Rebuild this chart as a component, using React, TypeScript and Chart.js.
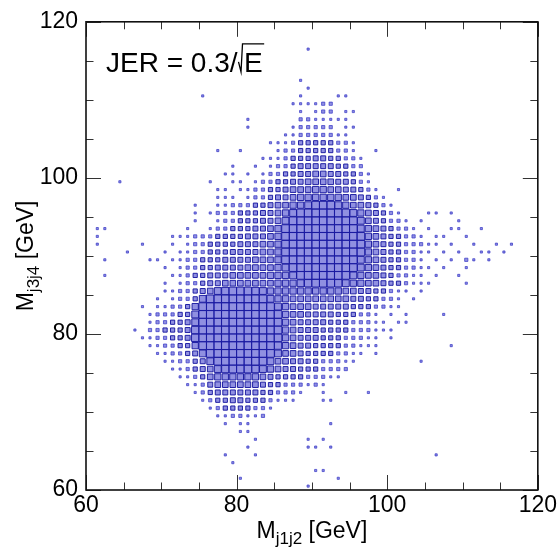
import React, { useEffect, useRef } from "react";
import { Chart, registerables } from "chart.js";

Chart.register(...registerables);

// Axis ranges and labelled ticks (GeV)
const xMin = 60;
const xMax = 120;
const yMin = 60;
const yMax = 120;
const xTicks = [60, 80, 100, 120];
const yTicks = [60, 80, 100, 120];
const minorStep = 5;
const binWidth = 1;

// 2D histogram:
// [M_j3j4 bin low edge, first M_j1j2 bin low edge, box level 0-9 for consecutive 1 GeV bins]
const densityRows: [number, number, string][] = [
  [116, 89, "1"],
  [112, 88, "1"],
  [111, 89, "1"],
  [110, 75, "1"], [110, 88, "1"], [110, 93, "11"],
  [109, 87, "111122"],
  [108, 88, "10122011"],
  [107, 81, "1"], [107, 88, "2211111"],
  [106, 81, "1"], [106, 87, "122222011"],
  [105, 86, "112222211"],
  [104, 84, "111233333221"],
  [103, 77, "1"], [103, 80, "1"], [103, 85, "12233333221"], [103, 98, "1"],
  [102, 83, "11123334433221"],
  [101, 79, "1"], [101, 82, "101223444443322"],
  [100, 78, "11010122334455443321"],
  [99, 64, "1"], [99, 76, "1001101223344555544321"],
  [98, 77, "1101122334555665544321"], [98, 101, "1"],
  [97, 77, "11101223445666666554321"],
  [96, 74, "1"], [96, 77, "112223345566799976554321"],
  [95, 74, "1012223334456799999997654321"], [95, 105, "1101"],
  [94, 74, "10012233344579999999997543221"], [94, 104, "1"], [94, 109, "1"],
  [93, 61, "11"], [93, 73, "1001223334456999999999976543221"], [93, 105, "10011001"],
  [92, 61, "1"], [92, 71, "1112223333444569999999999965433221"], [92, 106, "11001"],
  [91, 61, "1"], [91, 67, "1"], [91, 71, "101223333444556999999999996543322211"], [91, 108, "100100101"],
  [90, 65, "1"], [90, 70, "101122333444455699999999999654332211"], [90, 107, "101001101"],
  [89, 62, "1"], [89, 68, "1101122333444455569999999999765433221"], [89, 106, "10102101"],
  [88, 70, "101223344445555679999999997654332211"], [88, 107, "1001"],
  [87, 62, "1"], [87, 71, "1123344455555666799999997655432211"], [87, 106, "1001"],
  [86, 70, "10122344555555566678999876655433211"], [86, 105, "1"], [86, 110, "1"],
  [85, 70, "112234578999876666666666554433211"], [85, 104, "1"],
  [84, 69, "101223799999999766555555554433221"], [84, 103, "1"],
  [83, 67, "10112236999999999976555444443332211"],
  [82, 68, "12223379999999999965544443332210101"], [82, 107, "1"],
  [81, 68, "12233479999999999965444433322211011"],
  [80, 66, "10223334899999999999654443333222111"],
  [79, 67, "1122334899999999999654443332221101"],
  [78, 68, "1122336999999999986544333322111"], [78, 108, "1"],
  [77, 69, "112234799999999975543333221101"],
  [76, 70, "11223479999999755443322211"], [76, 104, "1"],
  [75, 71, "112345789998765443332222"],
  [74, 72, "1123566666654333322211"],
  [73, 73, "1124555555433222121"],
  [72, 74, "123444444332221001001001"],
  [71, 75, "123344333211100011"],
  [70, 76, "123333221"],
  [69, 77, "1122112"],
  [68, 78, "1011"], [68, 92, "1"],
  [67, 80, "11"],
  [66, 82, "1"], [66, 89, "101"],
  [65, 81, "1"], [65, 89, "1101"],
  [64, 78, "1"], [64, 82, "1"], [64, 106, "1"],
  [63, 79, "1"],
  [62, 90, "11"],
  [61, 80, "1"], [61, 93, "1"],
  [60, 89, "1"],
];

const FONT = '"Liberation Sans", Arial, Helvetica, sans-serif';
const boxScale = [0, 0.28, 0.42, 0.55, 0.65, 0.74, 0.82, 0.89, 0.95, 1.0];

type Cell = { x: number; y: number; v: number };

function buildPoints(): Cell[] {
  const pts: Cell[] = [];
  for (const [yLow, xLow, levels] of densityRows) {
    for (let i = 0; i < levels.length; i++) {
      const v = Number(levels[i]);
      if (v > 0) {
        pts.push({ x: xLow + i * binWidth + binWidth / 2, y: yLow + binWidth / 2, v });
      }
    }
  }
  return pts;
}

type Part = { t: string; size: number; dy: number };

function drawParts(ctx: CanvasRenderingContext2D, parts: Part[], x: number, y: number) {
  const widths = parts.map((p) => {
    ctx.font = `${p.size}px ${FONT}`;
    return ctx.measureText(p.t).width;
  });
  const total = widths.reduce((a, b) => a + b, 0);
  let cx = x - total / 2;
  parts.forEach((p, i) => {
    ctx.font = `${p.size}px ${FONT}`;
    ctx.fillText(p.t, cx, y + p.dy);
    cx += widths[i];
  });
}

const rootFramePlugin = {
  id: "rootFrame",
  afterDatasetsDraw(chart: any) {
    const { ctx, chartArea: a, scales } = chart;
    const xs = scales.x;
    const ys = scales.y;
    ctx.save();
    ctx.strokeStyle = "#333";
    ctx.lineWidth = 1;
    ctx.beginPath();
    for (let v = xMin; v <= xMax; v += minorStep) {
      const len = v % 20 === 0 ? 15 : 7.5;
      const px = Math.round(xs.getPixelForValue(v)) + 0.5;
      ctx.moveTo(px, a.bottom);
      ctx.lineTo(px, a.bottom - len);
      ctx.moveTo(px, a.top);
      ctx.lineTo(px, a.top + len);
    }
    for (let v = yMin; v <= yMax; v += minorStep) {
      const len = v % 20 === 0 ? 15 : 7.5;
      const py = Math.round(ys.getPixelForValue(v)) + 0.5;
      ctx.moveTo(a.left, py);
      ctx.lineTo(a.left + len, py);
      ctx.moveTo(a.right, py);
      ctx.lineTo(a.right - len, py);
    }
    ctx.stroke();
    ctx.strokeStyle = "#111";
    ctx.lineWidth = 1.6;
    ctx.strokeRect(a.left, a.top, a.right - a.left, a.bottom - a.top);
    ctx.restore();
  },
  afterDraw(chart: any) {
    const { ctx, chartArea: a } = chart;
    ctx.save();
    ctx.fillStyle = "#000";
    ctx.textBaseline = "alphabetic";
    ctx.textAlign = "left";

    drawParts(
      ctx,
      [
        { t: "M", size: 23, dy: 0 },
        { t: "j1j2", size: 17, dy: 6 },
        { t: " [GeV]", size: 23, dy: 0 },
      ],
      (a.left + a.right) / 2,
      538
    );

    ctx.save();
    ctx.translate(33, (a.top + a.bottom) / 2);
    ctx.rotate(-Math.PI / 2);
    drawParts(
      ctx,
      [
        { t: "M", size: 23, dy: 0 },
        { t: "j3j4", size: 17, dy: 6 },
        { t: " [GeV]", size: 23, dy: 0 },
      ],
      0,
      0
    );
    ctx.restore();

    const base = a.top + 50;
    const x0 = a.left + 20;
    ctx.font = `28px ${FONT}`;
    const lead = "JER = 0.3/";
    ctx.fillText(lead, x0, base);
    const w1 = ctx.measureText(lead).width;
    const wE = ctx.measureText("E").width;
    const xr = x0 + w1 + 1;
    const top = base - 28;
    ctx.strokeStyle = "#000";
    ctx.lineWidth = 1.3;
    ctx.beginPath();
    ctx.moveTo(xr, base - 10);
    ctx.lineTo(xr + 2.5, base);
    ctx.lineTo(xr + 4, top);
    ctx.lineTo(xr + 6 + wE + 1, top);
    ctx.stroke();
    ctx.fillText("E", xr + 5.5, base);
    ctx.restore();
  },
};

export default function App() {
  const ref = useRef<HTMLCanvasElement>(null);

  useEffect(() => {
    const canvas = ref.current;
    if (!canvas) return;
    const chart = new Chart(canvas, {
      type: "scatter",
      data: {
        datasets: [
          {
            data: buildPoints() as any,
            pointStyle: "rect",
            pointRadius: (c: any) => {
              const ch = c.chart;
              const xs = ch.scales?.x;
              const ys = ch.scales?.y;
              const raw = c.raw as Cell | undefined;
              if (!xs || !ys || !raw) return 1;
              const cw = Math.abs(xs.getPixelForValue(binWidth) - xs.getPixelForValue(0));
              const chh = Math.abs(ys.getPixelForValue(binWidth) - ys.getPixelForValue(0));
              const cell = (cw + chh) / 2;
              return (boxScale[raw.v] * cell) / Math.SQRT2;
            },
            backgroundColor: "rgba(70,70,205,0.6)",
            borderColor: (c: any) => {
              const raw = c.raw as Cell | undefined;
              return raw && raw.v >= 3 ? "rgba(25,25,160,0.95)" : "rgba(60,60,200,0.75)";
            },
            borderWidth: 1,
          } as any,
        ],
      },
      options: {
        animation: false,
        responsive: false,
        events: [],
        layout: { padding: { left: 0, right: 21, top: 17, bottom: 0 } },
        plugins: {
          legend: { display: false },
          tooltip: { enabled: false },
          title: { display: false },
        },
        scales: {
          x: {
            type: "linear",
            position: "bottom",
            min: xMin,
            max: xMax,
            afterBuildTicks: (s: any) => {
              s.ticks = xTicks.map((v) => ({ value: v }));
            },
            afterFit: (s: any) => {
              s.height = 62;
            },
            ticks: {
              font: { family: FONT, size: 23 },
              color: "#000",
              padding: 2,
              maxRotation: 0,
              autoSkip: false,
            },
            grid: { display: false, drawTicks: false },
            border: { display: false },
          },
          y: {
            type: "linear",
            position: "left",
            min: yMin,
            max: yMax,
            afterBuildTicks: (s: any) => {
              s.ticks = yTicks.map((v) => ({ value: v }));
            },
            afterFit: (s: any) => {
              s.width = 86;
            },
            ticks: {
              font: { family: FONT, size: 23 },
              color: "#000",
              padding: 8,
              autoSkip: false,
            },
            grid: { display: false, drawTicks: false },
            border: { display: false },
          },
        },
      } as any,
      plugins: [rootFramePlugin],
    });
    return () => chart.destroy();
  }, []);

  return (
    <div
      style={{
        position: "absolute",
        left: 0,
        top: 0,
        width: 559,
        height: 552,
        background: "#fff",
      }}
    >
      <canvas ref={ref} width={559} height={552} style={{ display: "block" }} />
    </div>
  );
}
